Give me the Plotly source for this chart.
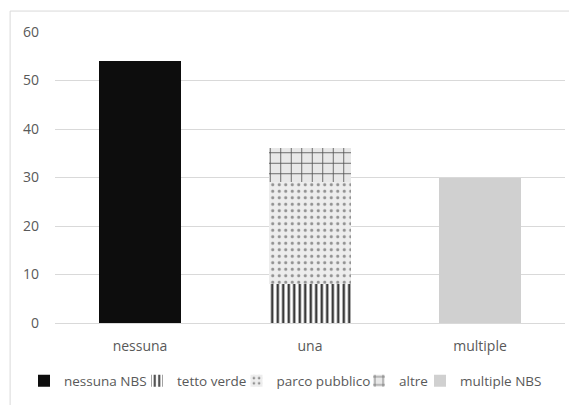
import plotly.graph_objects as go

categories = ["nessuna", "una", "multiple"]
nessuna_nbs = [54, None, None]
tetto_verde = [None, 8, None]
parco_pubblico = [None, 21, None]
altre = [None, 7, None]
multiple_nbs = [None, None, 30]
y_ticks = [0, 10, 20, 30, 40, 50, 60]

W, H = 577, 405
OFF = 8  # page body margin of the browser
# legend text start positions (px, window coords)
legend_text_x = [64, 177, 276.5, 399, 460]
legend_y_px = 381

fig = go.Figure()
fig.add_trace(go.Bar(name="nessuna NBS", x=categories, y=nessuna_nbs, legend="legend",
                     marker=dict(color="#0d0d0d", line_width=0)))
fig.add_trace(go.Bar(name="tetto verde", x=categories, y=tetto_verde, legend="legend2",
                     marker=dict(color="#ffffff", line_width=0,
                                 pattern=dict(shape="|", fgcolor="#3a3a3a", bgcolor="#ffffff",
                                              size=5.5, solidity=0.45, fillmode="replace"))))
fig.add_trace(go.Bar(name="parco pubblico", x=categories, y=parco_pubblico, legend="legend3",
                     marker=dict(color="#ececec", line_width=0,
                                 pattern=dict(shape=".", fgcolor="#909090", bgcolor="#ededed",
                                              size=6.5, solidity=0.18, fillmode="replace"))))
fig.add_trace(go.Bar(name="altre", x=categories, y=altre, legend="legend4",
                     marker=dict(color="#e8e8e8", line_width=0,
                                 pattern=dict(shape="+", fgcolor="#505050", bgcolor="#e8e8e8",
                                              size=10.5, solidity=0.15, fillmode="replace"))))
fig.add_trace(go.Bar(name="multiple NBS", x=categories, y=multiple_nbs, legend="legend5",
                     marker=dict(color="#d0d0d0", line_width=0)))

leg_font = dict(family="Open Sans, sans-serif", size=13.5, color="#595959")
legends = {}
for i, tx in enumerate(legend_text_x):
    key = "legend" if i == 0 else f"legend{i+1}"
    legends[key] = dict(xref="container", yref="container",
                        x=(tx - OFF - 40) / W, xanchor="left",
                        y=1 - (legend_y_px - OFF) / H, yanchor="middle",
                        font=leg_font, bgcolor="rgba(0,0,0,0)",
                        borderwidth=0, itemwidth=30)

fig.update_layout(
    barmode="stack",
    bargap=0.52,
    width=W, height=H,
    margin=dict(l=55 - OFF, r=W - 565 + OFF, t=32 - OFF, b=H - 323 + OFF, autoexpand=False),
    paper_bgcolor="#ffffff",
    plot_bgcolor="#ffffff",
    font=dict(family="Open Sans, sans-serif", color="#595959", size=14),
    showlegend=True,
    xaxis=dict(showgrid=False, showline=True, linecolor="#d9d9d9", linewidth=1,
               ticks="", ticklabelstandoff=10, tickfont=dict(size=14, color="#595959")),
    yaxis=dict(range=[0, 60], tickvals=y_ticks, showgrid=True, gridcolor="#d9d9d9",
               gridwidth=1, zeroline=False, showline=False, ticks="",
               ticklabelstandoff=15, tickfont=dict(size=14, color="#595959")),
    shapes=[dict(type="rect", xref="paper", yref="paper",
                 x0=-0.088, x1=1.06, y0=-0.35, y1=1.072,
                 line=dict(color="#d9d9d9", width=1), fillcolor="rgba(0,0,0,0)", layer="below")],
    **legends,
)

fig.write_html("out.html")
